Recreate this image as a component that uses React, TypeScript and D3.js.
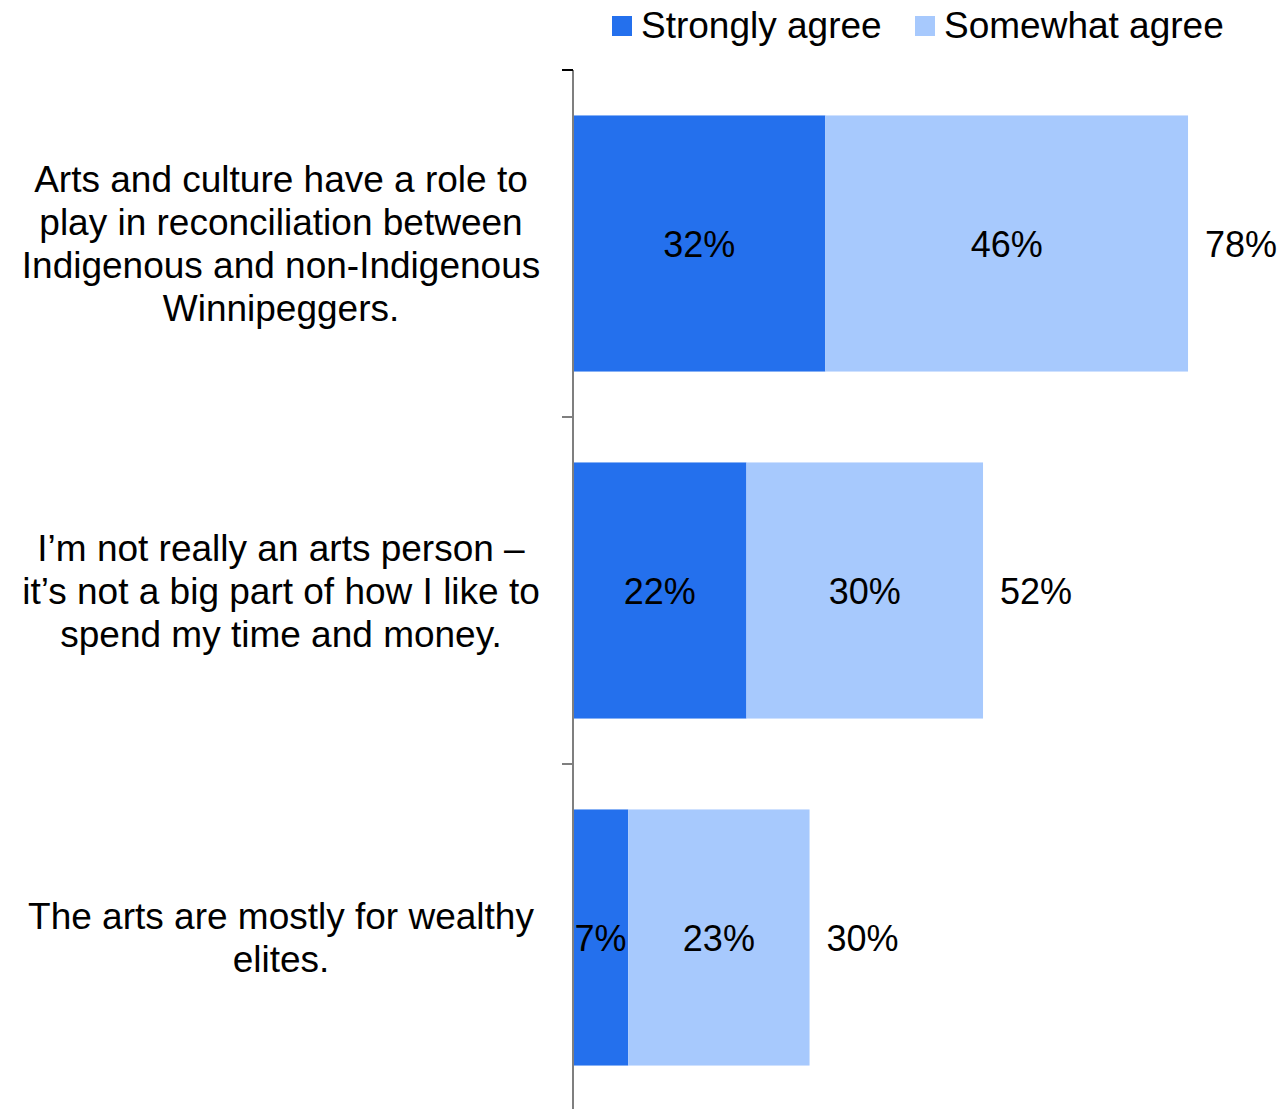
import React from "react";
import * as d3 from "d3";

const categories = [
  ["Arts and culture have a role to", "play in reconciliation between", "Indigenous and non-Indigenous", "Winnipeggers."],
  ["I\u2019m not really an arts person \u2013", "it\u2019s not a big part of how I like to", "spend my time and money."],
  ["The arts are mostly for wealthy", "elites."],
];
const seriesNames = ["Strongly agree", "Somewhat agree"];
const stronglyAgree = [32, 22, 7];
const somewhatAgree = [46, 30, 23];
const colors = ["#2470ED", "#A7C9FD"];

const W = 1288;
const H = 1109;
const FONT = "'Liberation Sans', Arial, sans-serif";

export default function App() {
  const x0 = 573;
  const x = d3.scaleLinear().domain([0, 100]).range([x0, x0 + 788.5]);
  const idx = categories.map((_, i) => String(i));
  const y = d3.scaleBand().domain(idx).range([70, 70 + 347 * 3]).paddingInner(0.262).paddingOuter(0.131);
  const rows = categories.map((c, i) => ({
    key: String(i),
    lines: c,
    vals: [stronglyAgree[i], somewhatAgree[i]],
    total: stronglyAgree[i] + somewhatAgree[i],
  }));
  const step = y.step();
  const tickYs = idx.map((k) => (y(k) as number) - y.paddingOuter() * step);
  const lineH = 43;

  return (
    <svg width={W} height={H} style={{ position: "absolute", left: 0, top: 0, background: "#fff" }} fontFamily={FONT}>
      {/* legend */}
      <g>
        <rect x={612} y={16} width={20} height={20} fill={colors[0]} />
        <text x={641} y={38} fontSize={37} fill="#000">{seriesNames[0]}</text>
        <rect x={915} y={16} width={20} height={20} fill={colors[1]} />
        <text x={944} y={38} fontSize={37} fill="#000">{seriesNames[1]}</text>
      </g>
      {/* bars */}
      {rows.map((r) => {
        const by = y(r.key) as number;
        const bh = y.bandwidth();
        const cy = by + bh / 2;
        let acc = 0;
        return (
          <g key={r.key}>
            {r.vals.map((v, j) => {
              const xs = x(acc);
              acc += v;
              const xe = x(acc);
              return (
                <g key={j}>
                  <rect x={xs} y={by} width={xe - xs} height={bh} fill={colors[j]} />
                  <text x={(xs + xe) / 2} y={cy + 13} fontSize={36} textAnchor="middle" fill="#000">{v}%</text>
                </g>
              );
            })}
            <text x={x(r.total) + 17} y={cy + 13} fontSize={36} fill="#000">{r.total}%</text>
            {r.lines.map((ln, li) => (
              <text key={li} x={281} y={cy + (li - (r.lines.length - 1) / 2) * lineH + 13} fontSize={37} textAnchor="middle" fill="#000">{ln}</text>
            ))}
          </g>
        );
      })}
      {/* axis */}
      <line x1={x0} x2={x0} y1={70} y2={H} stroke="#7f7f7f" strokeWidth={2} />
      {tickYs.map((ty, i) => (
        <line key={i} x1={562} x2={x0} y1={ty} y2={ty} stroke={i === 0 ? "#000" : "#7f7f7f"} strokeWidth={2} />
      ))}
    </svg>
  );
}
